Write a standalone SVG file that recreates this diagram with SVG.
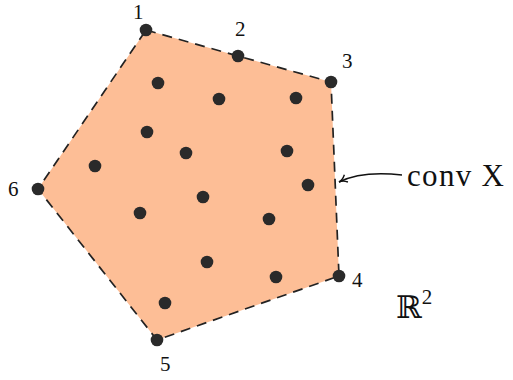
<svg xmlns="http://www.w3.org/2000/svg" width="513" height="380" viewBox="0 0 513 380">
<style>
.hull{fill:#fdbe96;stroke:#222;stroke-width:1.7;stroke-dasharray:10 7}
.pt{fill:#2a2a2a}
.lbl{font-family:"Liberation Serif","DejaVu Serif",serif;font-size:21px;fill:#111}
.big{font-family:"Liberation Serif","DejaVu Serif",serif;font-size:31px;fill:#111}
.conn{fill:none;stroke:#111;stroke-width:1.4}
</style>
<defs>
<marker id="ah" markerWidth="10" markerHeight="10" refX="9" refY="5" orient="auto" markerUnits="userSpaceOnUse">
<path d="M1,1 Q5,5 9,5 Q5,5 1,9" fill="none" stroke="#111" stroke-width="1.4"/>
</marker>
</defs>
<g id="hull">
<polygon class="hull" points="146,30 238,56 331,82 339,276 157,340 38,189"/>
</g>
<g id="v1"><circle class="pt" cx="146" cy="30" r="6.3"/><text class="lbl" x="133" y="19">1</text></g>
<g id="v2"><circle class="pt" cx="238" cy="56" r="6.3"/><text class="lbl" x="235" y="36">2</text></g>
<g id="v3"><circle class="pt" cx="331" cy="82" r="6.3"/><text class="lbl" x="342" y="68">3</text></g>
<g id="v4"><circle class="pt" cx="339" cy="276" r="6.3"/><text class="lbl" x="352" y="287">4</text></g>
<g id="v5"><circle class="pt" cx="157" cy="340" r="6.3"/><text class="lbl" x="160" y="371">5</text></g>
<g id="v6"><circle class="pt" cx="38" cy="189" r="6.3"/><text class="lbl" x="8" y="196">6</text></g>
<g id="interior">
<circle class="pt" cx="158" cy="83" r="6.3"/>
<circle class="pt" cx="219" cy="99" r="6.3"/>
<circle class="pt" cx="296" cy="98" r="6.3"/>
<circle class="pt" cx="147" cy="132" r="6.3"/>
<circle class="pt" cx="186" cy="153" r="6.3"/>
<circle class="pt" cx="287" cy="151" r="6.3"/>
<circle class="pt" cx="95" cy="166" r="6.3"/>
<circle class="pt" cx="308" cy="185" r="6.3"/>
<circle class="pt" cx="203" cy="197" r="6.3"/>
<circle class="pt" cx="140" cy="213" r="6.3"/>
<circle class="pt" cx="269" cy="219" r="6.3"/>
<circle class="pt" cx="207" cy="262" r="6.3"/>
<circle class="pt" cx="276" cy="277" r="6.3"/>
<circle class="pt" cx="165" cy="303" r="6.3"/>
</g>
<g id="connectors">
<path class="conn" d="M402,175 C375,172 355,174 339,182" marker-end="url(#ah)"/>
</g>
<g id="convlabel"><text class="big" x="407" y="186" textLength="97">conv X</text></g>
<g id="r2label"><text class="big" x="396" y="318">ℝ<tspan font-size="21" dy="-14">2</tspan></text></g>
</svg>
